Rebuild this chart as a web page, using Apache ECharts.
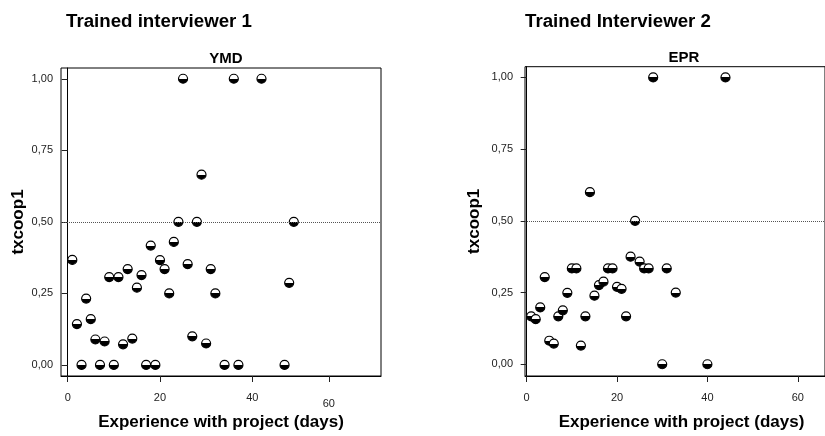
<!DOCTYPE html>
<html>
<head>
<meta charset="utf-8">
<script src="https://cdn.jsdelivr.net/npm/echarts@6/dist/echarts.min.js"></script>
<style>html,body{margin:0;padding:0;background:#fff}#c{width:825px;height:436px}</style>
</head>
<body>
<div id="c"></div>
<script>
// ---- data ----
var ymdDays = [1,2,3,4,5,6,7,8,9,10,11,12,13,14,15,16,17,18,19,20,21,22,23,24,25,26,27,28,29,30,31,32,34,36,37,42,47,48,49];
var ymdCoop = [0.367,0.143,0,0.232,0.16,0.089,0,0.082,0.307,0,0.307,0.072,0.335,0.092,0.27,0.314,0,0.417,0,0.366,0.335,0.25,0.43,0.5,1,0.352,0.1,0.5,0.665,0.075,0.335,0.25,0,1,0,1,0,0.287,0.5];
var eprDays = [1,2,3,4,5,6,7,8,9,10,11,12,13,14,15,16,17,18,19,20,21,22,23,24,25,26,27,28,30,31,33,40,44];
var eprCoop = [0.167,0.157,0.198,0.304,0.082,0.072,0.167,0.188,0.249,0.334,0.334,0.065,0.167,0.6,0.239,0.276,0.288,0.334,0.334,0.27,0.263,0.167,0.375,0.5,0.358,0.334,0.334,1,0,0.334,0.25,0,1];
var yTicks = [0,0.25,0.5,0.75,1];
var xTicksLeft = [0,20,40,56.6];
var xTickLabelsLeft = ['0','20','40','60'];
var xTicksRight = [0,20,40,60];
var xTickLabelsRight = ['0','20','40','60'];
var refLine = 0.5;
var mainTitles = ['Trained interviewer 1','Trained Interviewer 2'];
var panelTitles = ['YMD','EPR'];
var xName = 'Experience with project (days)';
var yName = 'txcoop1';

var FONT = '"Liberation Sans", Arial, sans-serif';
function pairs(xs, ys){ return xs.map(function(x,i){ return [x, ys[i]]; }); }
var markerFill = new echarts.graphic.LinearGradient(0,0,0,1,[
  {offset:0,color:'#fff'},{offset:0.5,color:'#fff'},{offset:0.5,color:'#000'},{offset:1,color:'#000'}]);

function yAxisCfg(idx, min, max, gap, margin){
  return {
    gridIndex: idx, type:'value', min:min, max:max,
    name: yName, nameLocation:'middle', nameRotate:90, nameGap:gap,
    nameTextStyle:{fontFamily:FONT, fontWeight:'bold', fontSize:17, color:'#000'},
    splitLine:{show:false},
    axisLine:{show:true, lineStyle:{color:'#000', width:1}},
    axisTick:{show:true, length:6, customValues:yTicks, lineStyle:{color:'#222'}},
    axisLabel:{show:true, customValues:yTicks, margin:margin, fontFamily:FONT, fontSize:11, color:'#222',
      formatter:function(v){ return v.toFixed(2).replace('.',','); }}
  };
}
function xAxisCfg(idx, min, max, ticks, labels, namePad){
  return {
    gridIndex: idx, type:'value', min:min, max:max,
    name: xName, nameLocation:'middle', nameGap:38,
    nameTextStyle:{fontFamily:FONT, fontWeight:'bold', fontSize:17, color:'#000', padding:namePad},
    splitLine:{show:false},
    axisLine:{show:true, onZero:false, lineStyle:{color:'#000', width:1}},
    axisTick:{show:true, length:6, customValues:ticks, lineStyle:{color:'#222'}},
    axisLabel:{show:true, customValues:ticks, margin:16, fontFamily:FONT, fontSize:11, color:'#222',
      formatter:function(v){
        var i = ticks.indexOf(v);
        var t = i >= 0 ? labels[i] : '';
        return (v > 50 && v < 60) ? '{low|' + t + '}' : t;
      },
      rich:{low:{fontFamily:FONT, fontSize:11, color:'#222', padding:[6,0,0,0]}}}
  };
}
function scatterCfg(idx, data){
  return {
    type:'scatter', xAxisIndex:idx, yAxisIndex:idx, data:data,
    symbol:'circle', symbolSize:9,
    itemStyle:{color:markerFill, borderColor:'#000', borderWidth:1.2, opacity:1},
    markLine:{silent:true, symbol:'none', label:{show:false},
      lineStyle:{type:'dotted', color:'#555', width:1},
      data:[{yAxis:refLine}]},
    emphasis:{disabled:true}
  };
}

var chart = echarts.init(document.getElementById('c'), null, {renderer:'canvas'});
chart.setOption({
  animation:false,
  backgroundColor:'#fff',
  title:[
    {text:mainTitles[0], left:61, top:7, textStyle:{fontFamily:FONT, fontWeight:'bold', fontSize:18.7, color:'#000'}},
    {text:mainTitles[1], left:520, top:7, textStyle:{fontFamily:FONT, fontWeight:'bold', fontSize:18.7, color:'#000'}},
    {text:panelTitles[0], left:221, textAlign:'center', top:46, textStyle:{fontFamily:FONT, fontWeight:'bold', fontSize:15, color:'#000'}},
    {text:panelTitles[1], left:679, textAlign:'center', top:45, textStyle:{fontFamily:FONT, fontWeight:'bold', fontSize:15, color:'#000'}}
  ],
  grid:[
    {left:61, top:68, width:320, height:315, show:true, borderColor:'#000', borderWidth:1, backgroundColor:'transparent'},
    {left:525, top:66.7, right:-5, height:316, show:true, borderColor:'#000', borderWidth:1, backgroundColor:'transparent'}
  ],
  xAxis:[
    xAxisCfg(0, -1.45, 67.9, xTicksLeft, xTickLabelsLeft, [0,0,0,0]),
    xAxisCfg(1, -0.37, 66.03, xTicksRight, xTickLabelsRight, [0,0,0,13])
  ],
  yAxis:[
    yAxisCfg(0, -0.0386, 1.0376, 34, 8),
    yAxisCfg(1, -0.041, 1.0375, 42, 12)
  ],
  series:[
    scatterCfg(0, pairs(ymdDays, ymdCoop)),
    scatterCfg(1, pairs(eprDays, eprCoop))
  ]
});
</script>
</body>
</html>
